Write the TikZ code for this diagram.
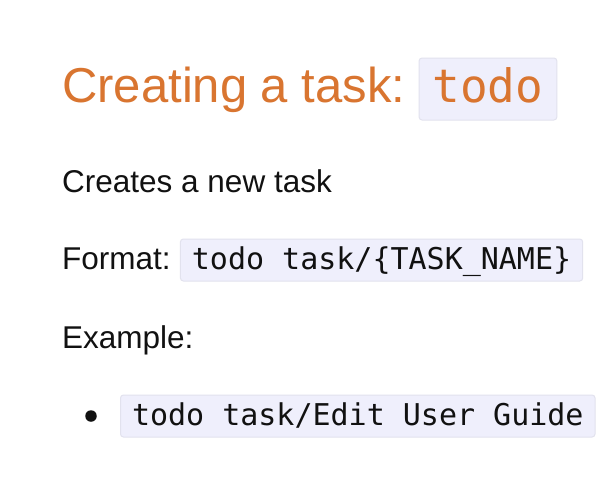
\documentclass[tikz,border=0pt]{standalone}
\usepackage{fontspec}
\setmainfont{Liberation Sans}
\setmonofont{DejaVu Sans Mono}
\usetikzlibrary{positioning}
\definecolor{headorange}{RGB}{217,117,48}
\definecolor{codefill}{RGB}{239,239,252}
\definecolor{codeline}{RGB}{226,226,238}
\definecolor{bodytext}{RGB}{17,17,17}

\tikzset{
  plain/.style={inner sep=0pt, anchor=base west, text=bodytext, font=\fontsize{31.5}{38}\selectfont},
  codebox/.style={draw=codeline, fill=codefill, rounded corners=3pt, line width=1pt, inner xsep=11.5pt, inner ysep=7pt, text height=23pt, text depth=5pt, text=bodytext, font=\ttfamily\fontsize{30}{36}\selectfont},
}

\begin{document}
\begin{tikzpicture}[x=1pt,y=1pt,yscale=-1]
\useasboundingbox[fill=white] (0,0) rectangle (602,496);

%Heading
\node[plain, text=headorange, font=\fontsize{49}{58}\selectfont] (title) at (62,102) {Creating a task:};
\node[codebox, base right=13pt of title, text=headorange, font=\ttfamily\fontsize{46}{55}\selectfont, inner xsep=13.5pt, inner ysep=9pt, text height=35pt, text depth=9pt] (titlecode) {todo};

%Text Nodes
\node[plain] (desc) at (62,192) {Creates a new task};
\node[plain] (fmt) at (62,269) {Format:};
\node[codebox, base right=9pt of fmt] (fmtcode) {todo task/\{TASK\_NAME\}};
\node[plain] (example) at (62,348) {Example:};

%Bullet item
\node[circle, fill=bodytext, inner sep=0pt, minimum size=11.5pt] (dot) at (91,416) {};
\node[codebox, anchor=base west] (excode) at (120,425) {todo task/Edit User Guide};
\end{tikzpicture}
\end{document}
